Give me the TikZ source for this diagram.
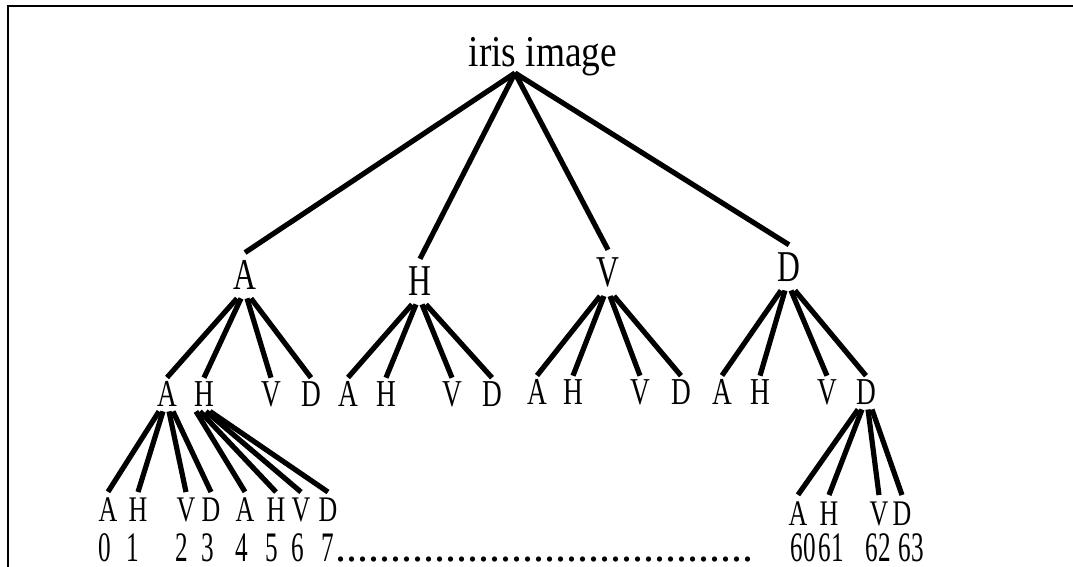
\documentclass[tikz,border=0pt]{standalone}
\usepackage{fontspec}
\setmainfont{Liberation Serif}
\newfontfamily\rootfont[FakeStretch=0.85]{Liberation Serif}
\newfontfamily\labfont[FakeStretch=0.72]{Liberation Serif}
\newfontfamily\numfont[FakeStretch=0.6]{Liberation Serif}
\newfontfamily\dotfont{Liberation Serif}
\begin{document}
\begin{tikzpicture}[x=0.5pt,y=-0.5pt,
  branch/.style={line width=2.6pt},
  rootlab/.style={anchor=base, inner sep=0pt, font=\rootfont\fontsize{22}{24}\selectfont},
  lvlone/.style={anchor=base, inner sep=4pt, font=\labfont\fontsize{22}{24}\selectfont},
  lvltwo/.style={anchor=base, inner sep=2pt, font=\labfont\fontsize{19}{21}\selectfont},
  lvlthree/.style={anchor=base, inner sep=3pt, font=\labfont\fontsize{18}{20}\selectfont},
  numlab/.style={anchor=base, inner sep=0pt, font=\numfont\fontsize{21}{23}\selectfont}]
\useasboundingbox (0,0) rectangle (1073,567);
\draw [line width=1.3pt] (8,567) -- (8,6) -- (1073,6);
\node [rootlab] (iris) at (543,67) {iris image};
\coordinate (apex) at (515,73);
\node [lvlone] (A) at (245,290) {A};
\node [lvlone] (H) at (420,296) {H};
\node [lvlone] (V) at (608,287) {V};
\node [lvlone] (D) at (789,282) {D};
\node [lvltwo] (AA) at (167,407) {A};
\node [lvltwo] (AH) at (204,407) {H};
\node [lvltwo] (AV) at (271,407) {V};
\node [lvltwo] (AD) at (311,407) {D};
\node [lvltwo] (HA) at (348,407) {A};
\node [lvltwo] (HH) at (386,407) {H};
\node [lvltwo] (HV) at (452,407) {V};
\node [lvltwo] (HD) at (492,407) {D};
\node [lvltwo] (VA) at (537,405) {A};
\node [lvltwo] (VH) at (573,405) {H};
\node [lvltwo] (VV) at (640,405) {V};
\node [lvltwo] (VD) at (681,405) {D};
\node [lvltwo] (DA) at (722,405) {A};
\node [lvltwo] (DH) at (760,405) {H};
\node [lvltwo] (DV) at (827,405) {V};
\node [lvltwo] (DD) at (866,405) {D};
\node [lvlthree] (AAA) at (108,522) {A};
\node [lvlthree] (AAH) at (138,522) {H};
\node [lvlthree] (AAV) at (186,522) {V};
\node [lvlthree] (AAD) at (211,522) {D};
\node [lvlthree] (AHA) at (245,522) {A};
\node [lvlthree] (AHH) at (276,522) {H};
\node [lvlthree] (AHV) at (301,522) {V};
\node [lvlthree] (AHD) at (328,522) {D};
\node [lvlthree] (DDA) at (798,525) {A};
\node [lvlthree] (DDH) at (829,525) {H};
\node [lvlthree] (DDV) at (879,525) {V};
\node [lvlthree] (DDD) at (902,525) {D};
\node [numlab] (n0) at (105,561) {0};
\node [numlab] (n1) at (133,561) {1};
\node [numlab] (n2) at (182,561) {2};
\node [numlab] (n3) at (208,561) {3};
\node [numlab] (n4) at (242,561) {4};
\node [numlab] (n5) at (272,561) {5};
\node [numlab] (n6) at (298,561) {6};
\node [numlab] (n7) at (328,561) {7};
\node [anchor=base west, inner sep=0pt, font=\dotfont\fontsize{22}{24}\selectfont] (dots) at (335,561) {......................................};
\node [numlab] (n60) at (803,561) {60};
\node [numlab] (n61) at (831,561) {61};
\node [numlab] (n62) at (878,561) {62};
\node [numlab] (n63) at (911,561) {63};
\draw [branch] (apex) -- (A.north);
\draw [branch] (apex) -- (H.north);
\draw [branch] (apex) -- (V.north);
\draw [branch] (apex) -- (D.north);
\foreach \p in {A,H,V,D} {
  \foreach \c/\s in {A/-4,H/-2,V/1,D/3} {
    \draw [branch] ([xshift=\s pt]\p.south) -- (\p\c.north);
  }
}
\foreach \c/\s in {A/-4,H/-2,V/1,D/3} {
  \draw [branch] ([xshift=\s pt]AA.south) -- (AA\c.north);
  \draw [branch] ([xshift=\s pt]AH.south) -- (AH\c.north);
  \draw [branch] ([xshift=\s pt]DD.south) -- (DD\c.north);
}
\end{tikzpicture}
\end{document}
